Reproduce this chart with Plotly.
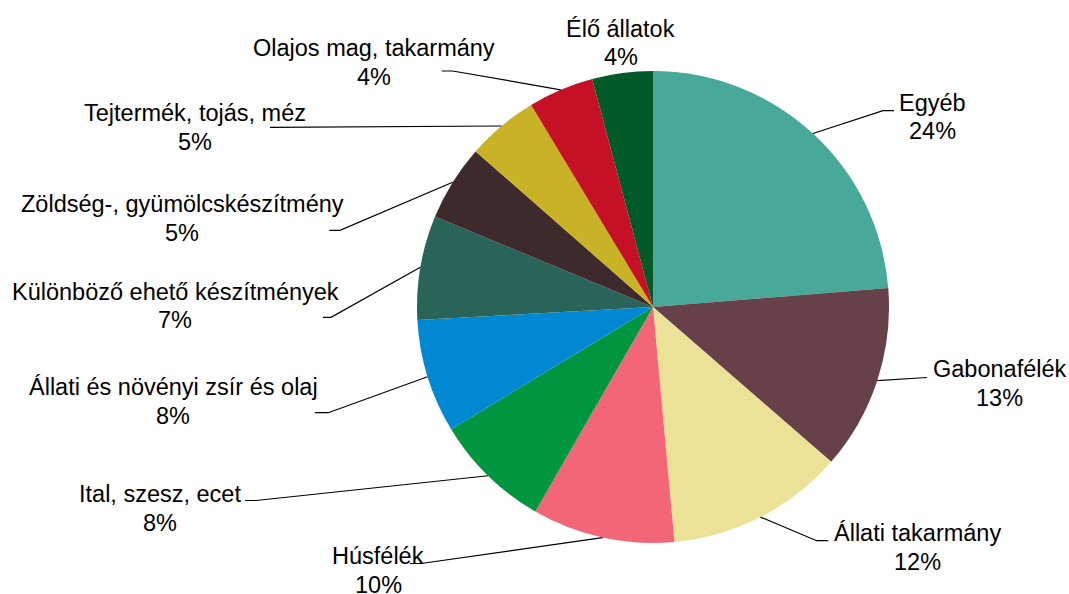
import math
import plotly.graph_objects as go

# ---- data ----
categories = [
    "Egyéb", "Gabonafélék", "Állati takarmány", "Húsfélék", "Ital, szesz, ecet",
    "Állati és növényi zsír és olaj", "Különböző ehető készítmények",
    "Zöldség-, gyümölcskészítmény", "Tejtermék, tojás, méz",
    "Olajos mag, takarmány", "Élő állatok",
]
shares = [23.71, 12.68, 12.16, 9.76, 8.02, 7.79, 7.14, 5.2, 4.9, 4.49, 4.15]
colors = ["#48A899", "#66414A", "#EBE197", "#F26677", "#00963F", "#0088D3",
          "#2A6458", "#3E292C", "#C8B226", "#C51026", "#005A27"]

# ---- layout (pixels) ----
W, H = 1069, 594
CX, CY, R = 653, 307, 236
FONT = dict(family="Liberation Sans, Arial, sans-serif", size=23.5, color="black")
LINE_GAP = 28.5

# label center (name line), and leader line points (elbow, end) per slice
label_pos = [
    (932, 102.5), (999.5, 369), (917, 533), (378, 556), (160, 494),
    (173, 387), (175, 291.5), (182, 204), (195, 113), (373.5, 48), (620.5, 28.5),
]
leader = [
    [(883, 110.7), (894, 110.7)],
    [(927, 377.5)],
    [(816.7, 540.7), (828.3, 540.7)],
    [(421, 563.5), (410, 563.5)],
    [(256, 500.5), (245, 500.5)],
    [(328.3, 412.7), (315, 412.7)],
    [(331, 317.3), (323, 317.3)],
    [(340, 230.3), (329.3, 230.3)],
    [(270, 127.3)],
    [(452.7, 71), (441.7, 71)],
    None,
]


def px(x):
    return x / W


def py(y):
    return 1 - y / H


fig = go.Figure(go.Pie(
    labels=categories, values=shares, sort=False, direction="clockwise",
    rotation=0, textinfo="none", hoverinfo="skip",
    marker=dict(colors=colors, line=dict(width=0)),
    domain=dict(x=[px(CX - R), px(CX + R)], y=[py(CY + R), py(CY - R)]),
    showlegend=False,
))

total = sum(shares)
cum = 0.0
annotations = []
shapes = []
for name, v, (lx, ly), pts in zip(categories, shares, label_pos, leader):
    mid = (cum + v / 2) / total * 2 * math.pi
    cum += v
    pct = f"{round(v / total * 100)}%"
    annotations.append(dict(x=px(lx), y=py(ly), xref="paper", yref="paper", text=name,
                            showarrow=False, xanchor="center", yanchor="middle", font=FONT))
    annotations.append(dict(x=px(lx), y=py(ly + LINE_GAP), xref="paper", yref="paper", text=pct,
                            showarrow=False, xanchor="center", yanchor="middle", font=FONT))
    if pts:
        ex = CX + R * math.sin(mid)
        ey = CY - R * math.cos(mid)
        path = f"M {px(ex)},{py(ey)} " + " ".join(f"L {px(a)},{py(b)}" for a, b in pts)
        shapes.append(dict(type="path", path=path, xref="paper", yref="paper",
                           line=dict(color="black", width=1.2)))

fig.update_layout(
    width=W, height=H, margin=dict(l=0, r=0, t=0, b=0),
    paper_bgcolor="white", plot_bgcolor="white",
    annotations=annotations, shapes=shapes,
)

fig.write_html("out.html", config={"displayModeBar": False},
               post_script="document.body.style.margin='0';")
